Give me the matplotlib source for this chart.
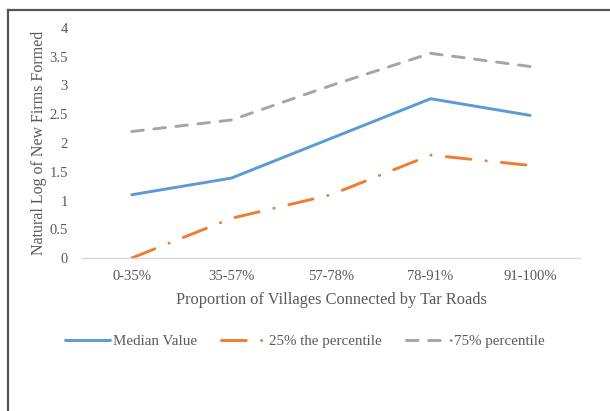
import numpy as np
import matplotlib
matplotlib.use("Agg")
from matplotlib import pyplot as plt
from matplotlib.lines import Line2D

categories = ["0-35%", "35-57%", "57-78%", "78-91%", "91-100%"]
median_value = [1.10, 1.39, 2.08, 2.77, 2.48]
p25 = [0.00, 0.69, 1.10, 1.79, 1.61]
p75 = [2.20, 2.40, 3.00, 3.56, 3.33]

y_ticks = [0, 0.5, 1, 1.5, 2, 2.5, 3, 3.5, 4]
y_tick_labels = ["0", "0.5", "1", "1.5", "2", "2.5", "3", "3.5", "4"]

text_color = "#595959"
plt.rcParams["font.family"] = ["Liberation Serif", "DejaVu Serif"]

fig = plt.figure(figsize=(6.1, 4.11), dpi=100)
W, H = 610, 411
ax = fig.add_axes([82 / W, (H - 258) / H, 498 / W, 230 / H])

x = np.arange(len(categories))
ax.plot(x, median_value, color="#5b9bd5", lw=2.1, solid_capstyle="round",
        label="Median Value")
ax.plot(x, p25, color="#ed7d31", lw=2.1, dash_capstyle="round",
        dashes=(8.5, 5.2, 0.1, 5.2), label="25% the percentile")
ax.plot(x, p75, color="#a5a5a5", lw=2.1, dash_capstyle="round",
        dashes=(4.0, 3.6), label="75% percentile")

ax.set_xlim(-0.5, len(categories) - 0.5)
ax.set_ylim(0, 4)
ax.set_xticks(x)
ax.set_xticklabels(categories)
ax.set_yticks(y_ticks)
ax.set_yticklabels(y_tick_labels)
ax.tick_params(axis="both", length=0, labelsize=10.5, labelcolor=text_color)
ax.tick_params(axis="y", pad=10)
ax.tick_params(axis="x", pad=9)

for s in ["top", "right", "left"]:
    ax.spines[s].set_visible(False)
ax.spines["bottom"].set_color("#d9d9d9")
ax.spines["bottom"].set_linewidth(1.0)

ax.set_xlabel("Proportion of Villages Connected by Tar Roads", fontsize=11.8,
              color=text_color, labelpad=6)
ax.set_ylabel("Natural Log of New Firms Formed", fontsize=11.5,
              color=text_color, labelpad=2)

leg = fig.legend(loc="center", bbox_to_anchor=(305 / W, (H - 341) / H),
                 ncol=3, frameon=False, fontsize=10.8, handlelength=3.0,
                 columnspacing=1.6, handletextpad=0.2)
for t in leg.get_texts():
    t.set_color(text_color)

# outer frame of the chart box (cropped)
fig.add_artist(Line2D([8 / W, 1.0], [(H - 10) / H, (H - 10) / H],
                      transform=fig.transFigure, color="#555555", lw=1.6))
fig.add_artist(Line2D([8 / W, 8 / W], [0, (H - 10) / H],
                      transform=fig.transFigure, color="#555555", lw=1.6))

fig.savefig("out.png", dpi=100)
